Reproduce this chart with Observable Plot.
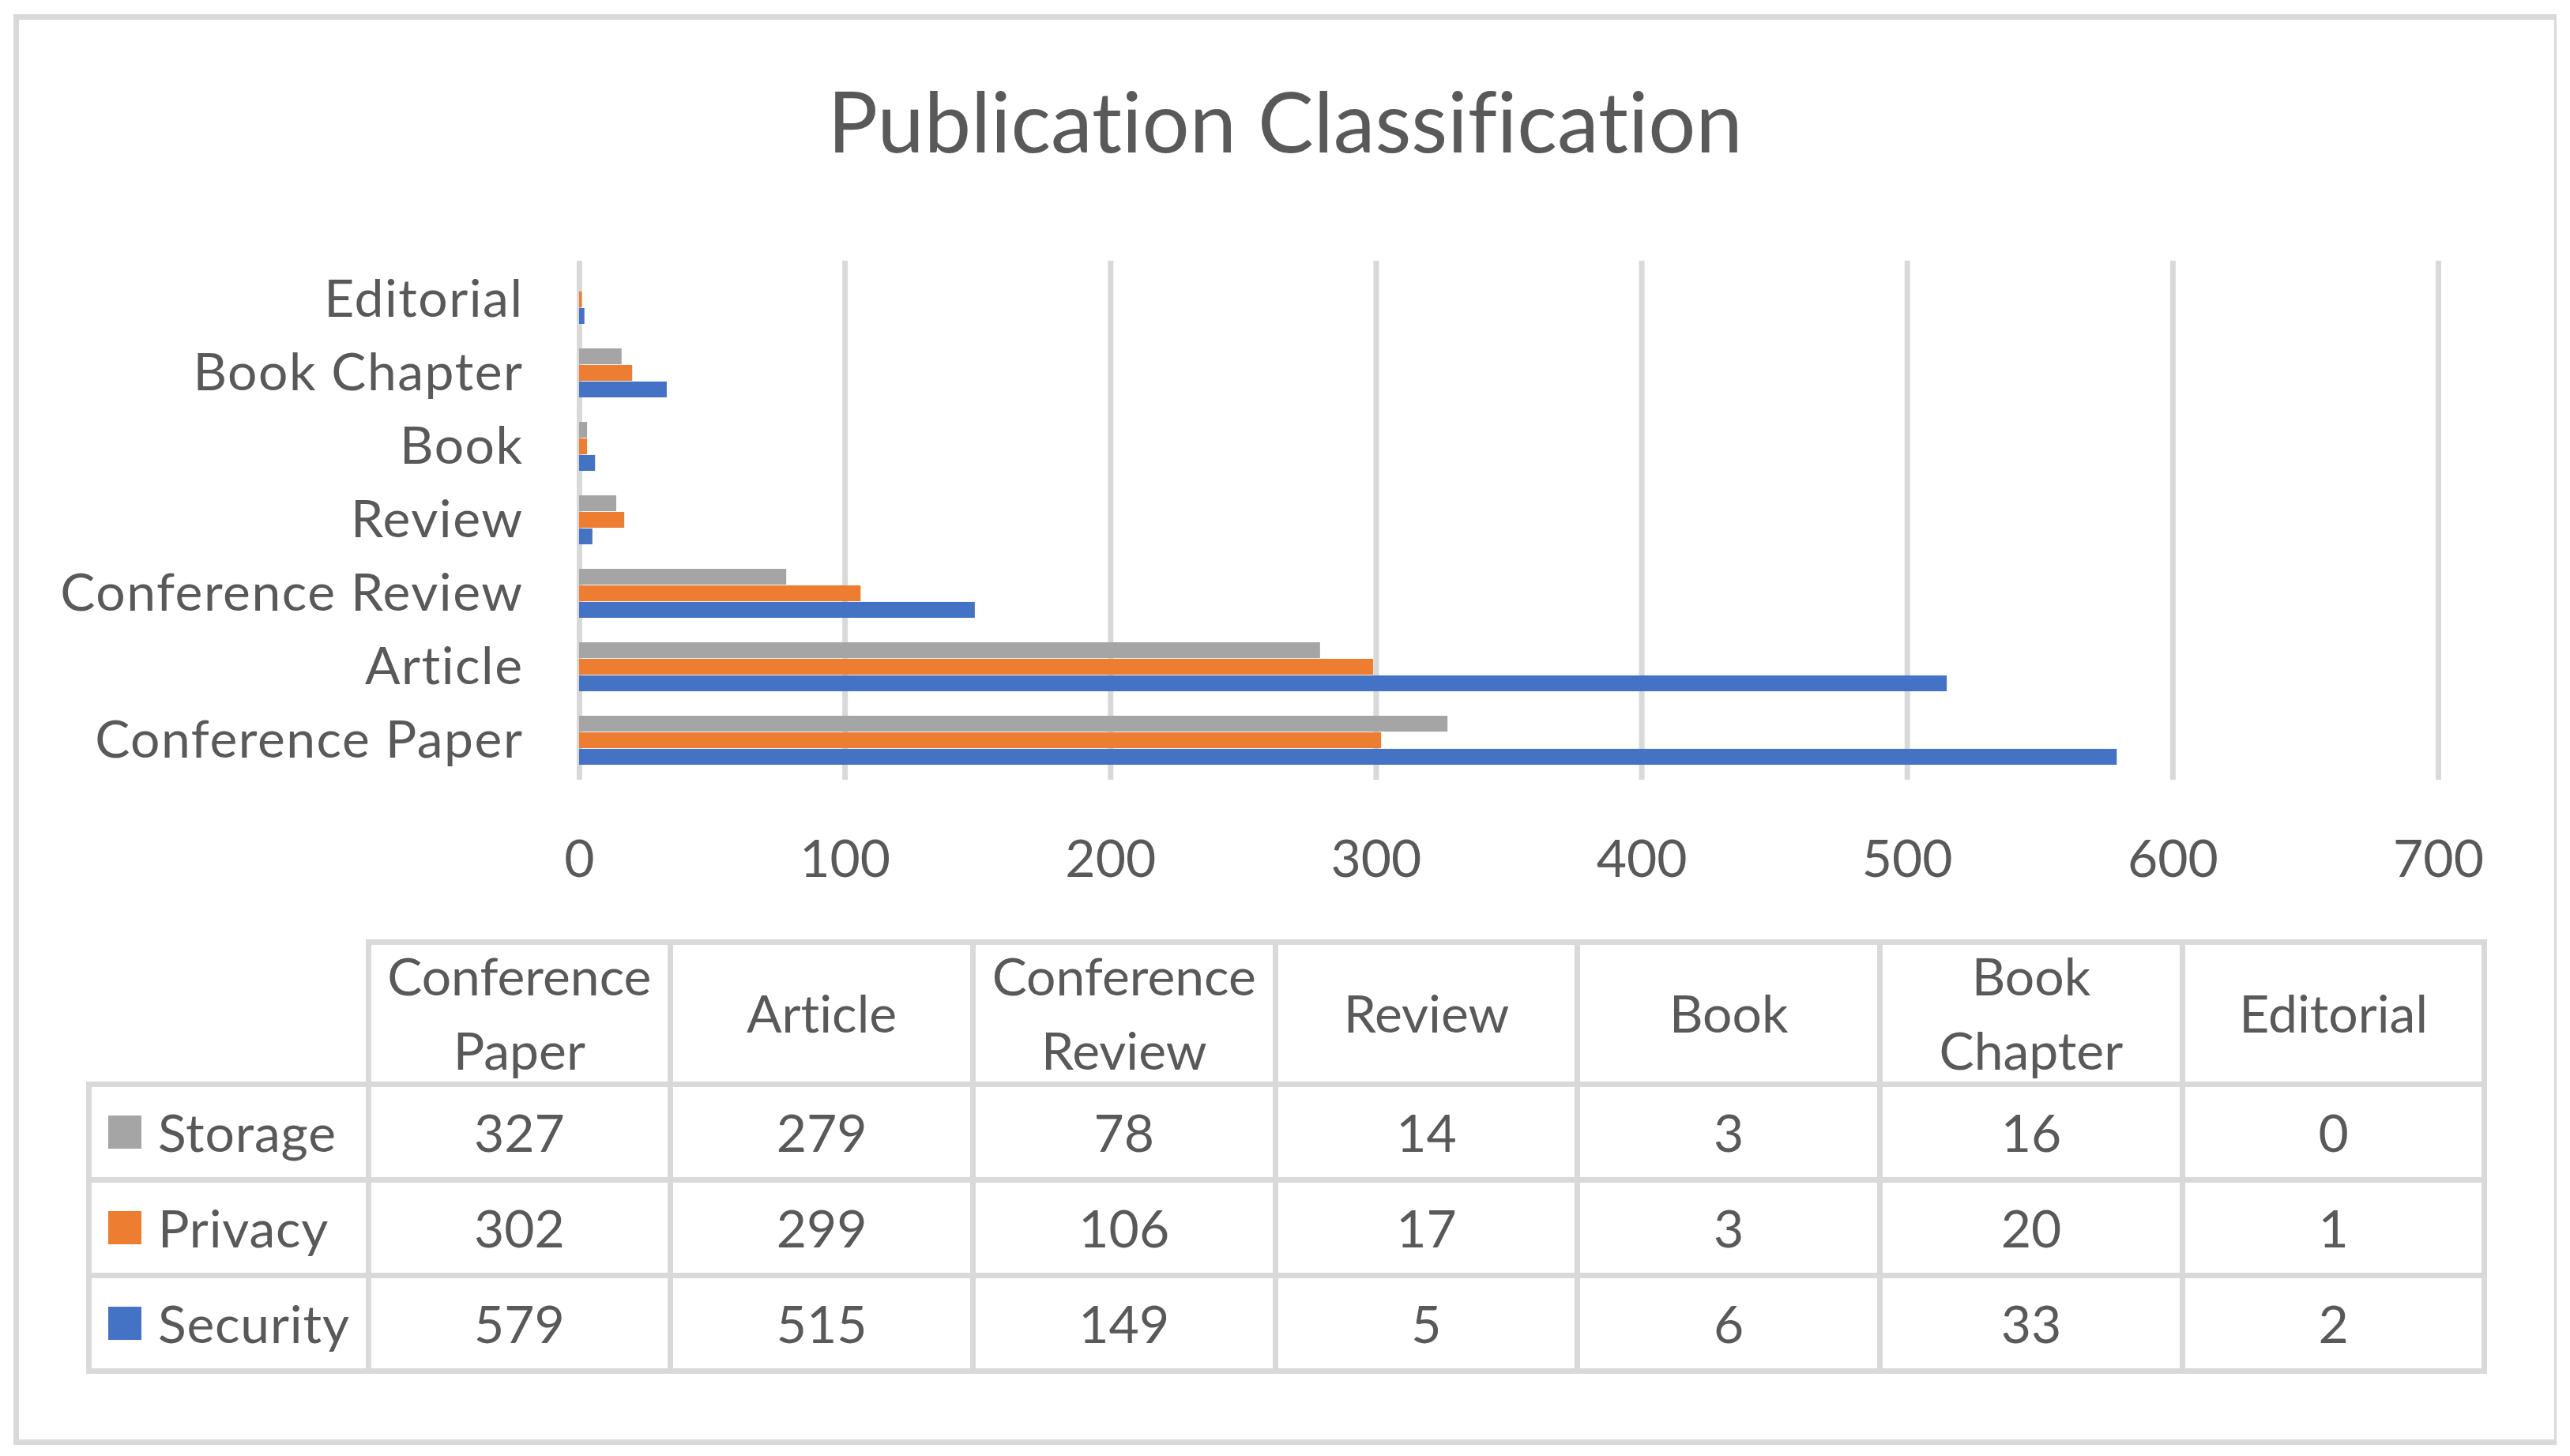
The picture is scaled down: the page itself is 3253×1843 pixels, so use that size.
<!DOCTYPE html>
<html><head><meta charset="utf-8">
<script src="https://cdn.jsdelivr.net/npm/d3@7"></script>
<script src="https://cdn.jsdelivr.net/npm/@observablehq/plot@0.6"></script>
<style>
body{margin:0;background:#fff;}
#wrap{position:relative;width:3253px;height:1843px;overflow:hidden;font-family:Lato,"Open Sans",sans-serif;color:#595959;background:#fff;font-variant-ligatures:none;}
#frame{position:absolute;left:17px;top:18px;width:3219px;height:1811px;box-sizing:border-box;border:7px solid #d9d9d9;border-right-width:3px;}
#title{position:absolute;left:0;width:3253px;text-align:center;font-size:106px;line-height:106px;top:99px;white-space:nowrap;}
#chart{position:absolute;left:0;top:240px;}
#chart svg text{font-variant-ligatures:none;}
#chart svg g[aria-label="y-axis tick label"] text{letter-spacing:1.5px;}
.cell{position:absolute;box-sizing:border-box;border:7px solid #d9d9d9;display:flex;align-items:center;justify-content:center;text-align:center;font-size:66px;}
.hdr{line-height:94px;padding:0 18px;}
.leg{justify-content:flex-start;padding-left:21.5px;letter-spacing:0.8px;}
.sw{width:42px;height:42px;margin-right:21px;flex:none;}
</style></head><body>
<div id="wrap"><div id="frame"></div><div id="title">Publication Classification</div><div id="chart"></div><div id="table"></div></div>
<script>
const categories = ["Conference Paper","Article","Conference Review","Review","Book","Book Chapter","Editorial"];
const seriesNames = ["Storage","Privacy","Security"];
const storage = [327,279,78,14,3,16,0];
const privacy = [302,299,106,17,3,20,1];
const security = [579,515,149,5,6,33,2];
const seriesColors = ["#A5A5A5","#ED7D31","#4472C4"];
const xTicks = [0,100,200,300,400,500,600,700];

const seriesValues = [storage, privacy, security];
const data = [];
seriesNames.forEach((s, i) => categories.forEach((c, j) => data.push({category: c, series: s, value: seriesValues[i][j]})));

const W = 3253, H = 910, mt = 90, mb = 163, ml = 733, mr = 167;
const padIn = 0.33, padOut = 0.165;
const n = categories.length;
const step = (H - mt - mb) / (n - padIn + 2 * padOut);
const bw = step * (1 - padIn);
const part = bw / 3;

const marks = [
  Plot.gridX({ticks: xTicks, stroke: "#d9d9d9", strokeOpacity: 1, strokeWidth: 7})
];
seriesNames.forEach((s, i) => {
  marks.push(Plot.barX(data.filter(d => d.series === s), {
    x: "value", y: "category", fill: seriesColors[i],
    insetTop: part * i, insetBottom: part * (2 - i)
  }));
});
marks.push(Plot.axisX({ticks: xTicks, tickSize: 0, tickPadding: 76, label: null, fontSize: 66}));
marks.push(Plot.axisY({tickSize: 0, tickPadding: 71, label: null, fontSize: 66}));

const chart = Plot.plot({
  width: W, height: H,
  marginTop: mt, marginBottom: mb, marginLeft: ml, marginRight: mr,
  x: {domain: [0, 700]},
  y: {domain: categories.slice().reverse(), paddingInner: padIn, paddingOuter: padOut},
  style: {fontFamily: "Lato, 'Open Sans', sans-serif", fontSize: "66px", color: "#595959", background: "transparent", overflow: "visible"},
  marks
});
document.getElementById("chart").appendChild(chart);

// data table below the chart
const table = document.getElementById("table");
const colX = d3.range(categories.length + 1).map(i => 466 + i * (3145 - 466) / categories.length);
const legendX = 112;
const rowY = [1192, 1372, 1493, 1614, 1735];
function cell(x0, x1, y0, y1, cls) {
  const d = document.createElement("div");
  d.className = "cell " + (cls || "");
  d.style.left = (x0 - 3.5) + "px";
  d.style.top = (y0 - 3.5) + "px";
  d.style.width = (x1 - x0 + 7) + "px";
  d.style.height = (y1 - y0 + 7) + "px";
  table.appendChild(d);
  return d;
}
categories.forEach((c, j) => {
  cell(colX[j], colX[j + 1], rowY[0], rowY[1], "hdr").textContent = c;
});
seriesNames.forEach((s, i) => {
  const lg = cell(legendX, colX[0], rowY[i + 1], rowY[i + 2], "leg");
  const sw = document.createElement("div");
  sw.className = "sw";
  sw.style.background = seriesColors[i];
  lg.appendChild(sw);
  const t = document.createElement("span");
  t.textContent = s;
  lg.appendChild(t);
  categories.forEach((c, j) => {
    cell(colX[j], colX[j + 1], rowY[i + 1], rowY[i + 2]).textContent = seriesValues[i][j];
  });
});
</script>
</body></html>
